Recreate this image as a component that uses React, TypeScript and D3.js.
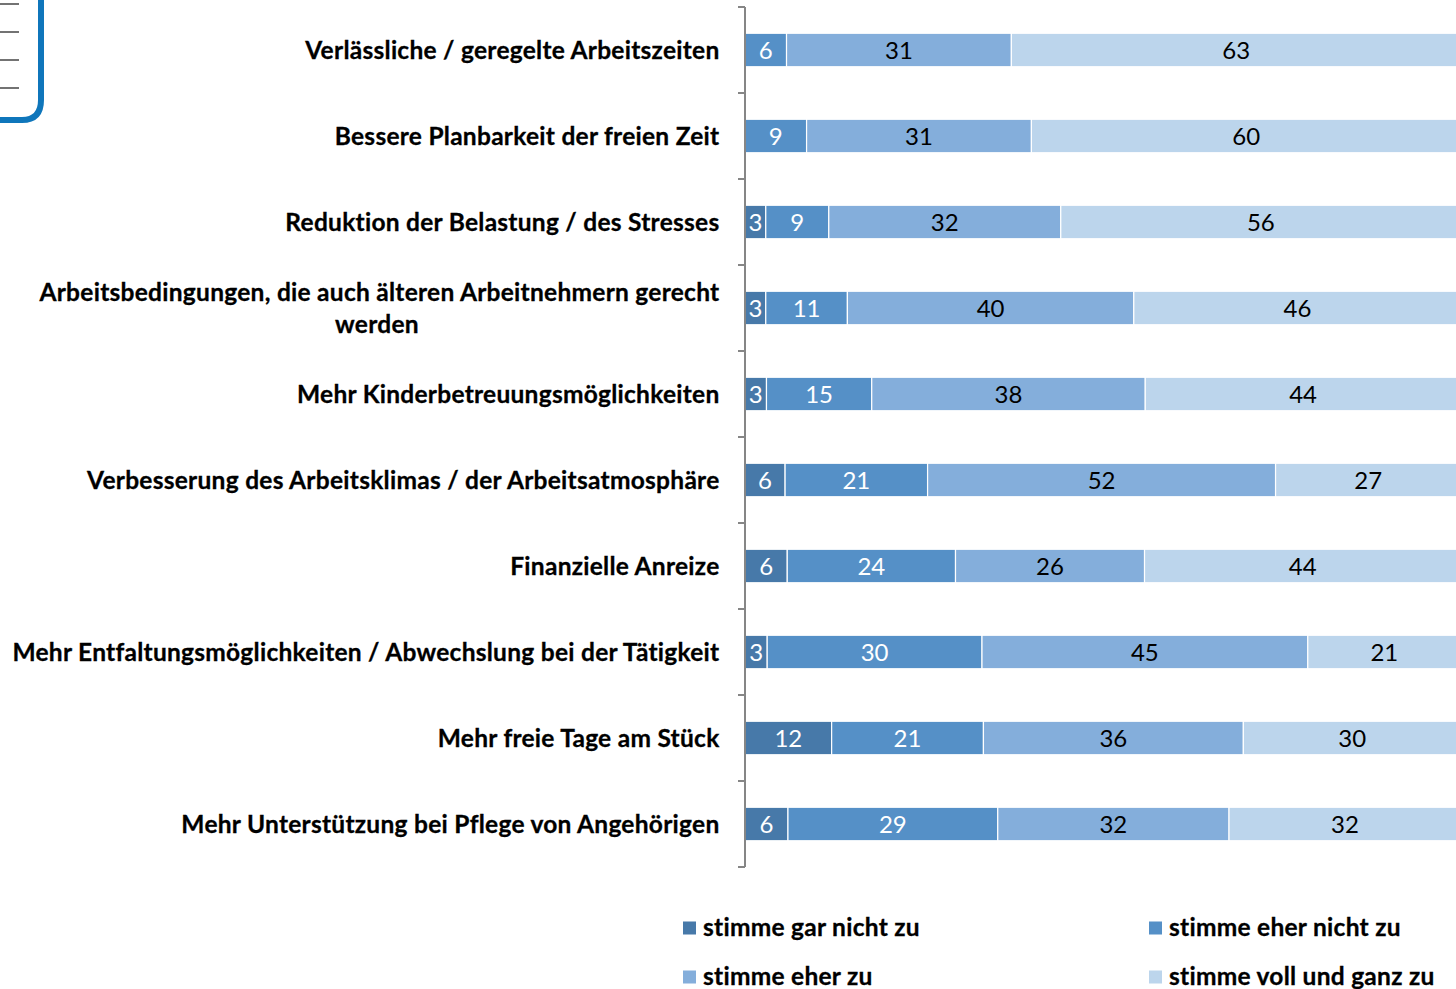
import { useEffect, useRef } from "react";
import * as d3 from "d3";

const categories = [
  ["Verlässliche / geregelte Arbeitszeiten"],
  ["Bessere Planbarkeit der freien Zeit"],
  ["Reduktion der Belastung / des Stresses"],
  ["Arbeitsbedingungen, die auch älteren Arbeitnehmern gerecht", "werden"],
  ["Mehr Kinderbetreuungsmöglichkeiten"],
  ["Verbesserung des Arbeitsklimas / der Arbeitsatmosphäre"],
  ["Finanzielle Anreize"],
  ["Mehr Entfaltungsmöglichkeiten / Abwechslung bei der Tätigkeit"],
  ["Mehr freie Tage am Stück"],
  ["Mehr Unterstützung bei Pflege von Angehörigen"],
];

const seriesNames = [
  "stimme gar nicht zu",
  "stimme eher nicht zu",
  "stimme eher zu",
  "stimme voll und ganz zu",
];
const colors = ["#4779a9", "#5590c7", "#84aedb", "#bcd5ec"];
const textColors = ["#fff", "#fff", "#000", "#000"];

// bar lengths as measured in the picture (they are not always the rounded labels)
const garNicht = [0, 0, 2.9, 2.9, 3, 5.6, 5.9, 3.1, 12.1, 6];
const eherNicht = [5.8, 8.6, 8.8, 11.4, 14.7, 19.9, 23.5, 30, 21.2, 29.3];
const eherZu = [31.4, 31.4, 32.4, 40, 38.2, 48.6, 26.4, 45.5, 36.3, 32.3];
const vollGanz = [62.8, 60, 55.9, 45.7, 44.1, 25.9, 44.2, 21.4, 30.4, 32.4];

// printed labels
const garNichtLabels = [0, 0, 3, 3, 3, 6, 6, 3, 12, 6];
const eherNichtLabels = [6, 9, 9, 11, 15, 21, 24, 30, 21, 29];
const eherZuLabels = [31, 31, 32, 40, 38, 52, 26, 45, 36, 32];
const vollGanzLabels = [63, 60, 56, 46, 44, 27, 44, 21, 30, 32];

const values = [garNicht, eherNicht, eherZu, vollGanz];
const labels = [garNichtLabels, eherNichtLabels, eherZuLabels, vollGanzLabels];

const font = "Lato, 'Noto Sans', sans-serif";

const boldText = (sel: d3.Selection<SVGTextElement, unknown, null, undefined>) =>
  sel
    .attr("font-family", font)
    .attr("font-weight", 700)
    .attr("font-size", 24.5)
    .attr("letter-spacing", 0.27)
    .attr("fill", "#000")
    .attr("stroke", "#000")
    .attr("stroke-width", 0.3)
    .style("font-variant-ligatures", "none");

const drawChart = (node: SVGSVGElement) => {
  const svg = d3.select(node);
  svg.selectAll("*").remove();

  const x = d3.scaleLinear().domain([0, 100]).range([745, 1461]);
  const y = d3
    .scaleBand<number>()
    .domain(categories.map((_, i) => i))
    .range([7, 867])
    .paddingInner(0)
    .paddingOuter(0);
  const barH = 33.5;

  // clipboard decoration cut off in the top left corner
  const deco = svg.append("g");
  deco
    .append("path")
    .attr("d", "M-5,120 H22 Q41,120 41,100 V-5")
    .attr("fill", "none")
    .attr("stroke", "#0f76bb")
    .attr("stroke-width", 6);
  deco
    .selectAll("line")
    .data([4, 32, 60, 88])
    .enter()
    .append("line")
    .attr("x1", 0)
    .attr("x2", 19)
    .attr("y1", (d) => d)
    .attr("y2", (d) => d)
    .attr("stroke", "#444")
    .attr("stroke-width", 1.5);

  // bars
  categories.forEach((_, row) => {
    let cum = 0;
    const g = svg.append("g");
    values.forEach((s, k) => {
      const v = s[row];
      const start = cum;
      cum += v;
      if (!v) return;
      const yTop = y(row)! + (y.bandwidth() - barH) / 2;
      g.append("rect")
        .attr("x", x(start))
        .attr("y", yTop)
        .attr("width", x(start + v) - x(start))
        .attr("height", barH)
        .attr("fill", colors[k])
        .attr("stroke", "#fff")
        .attr("stroke-width", 1.2);
      g.append("text")
        .attr("x", x(start + v / 2))
        .attr("y", yTop + barH / 2 + 9)
        .attr("text-anchor", "middle")
        .attr("font-family", font)
        .attr("font-size", 24)
        .attr("fill", textColors[k])
        .text(labels[k][row]);
    });
  });

  // axis
  const axis = svg.append("g").attr("stroke", "#868686").attr("stroke-width", 2);
  axis
    .append("line")
    .attr("x1", 745)
    .attr("x2", 745)
    .attr("y1", y.range()[0])
    .attr("y2", y.range()[1]);
  axis
    .selectAll("line.tick")
    .data(d3.range(categories.length + 1))
    .enter()
    .append("line")
    .attr("class", "tick")
    .attr("x1", 738)
    .attr("x2", 745)
    .attr("y1", (d) => y.range()[0] + d * y.step())
    .attr("y2", (d) => y.range()[0] + d * y.step());

  // category labels, two-line ones are centred on their longest line
  categories.forEach((lines, row) => {
    const mid = y(row)! + y.bandwidth() / 2;
    const lineH = 32;
    const top = mid - ((lines.length - 1) * lineH) / 2 + 8.5;
    const first = svg
      .append("text")
      .attr("x", 719.5)
      .attr("y", top)
      .attr("text-anchor", "end")
      .call(boldText)
      .text(lines[0]);
    const w = (first.node() as SVGTextElement).getComputedTextLength();
    lines.slice(1).forEach((line, i) => {
      svg
        .append("text")
        .attr("x", 719 - w / 2 - 2)
        .attr("y", top + (i + 1) * lineH)
        .attr("text-anchor", "middle")
        .call(boldText)
        .text(line);
    });
  });

  // legend
  const legendX = d3.scaleOrdinal<number, number>().domain([0, 1]).range([683, 1149]);
  const legendY = d3.scaleOrdinal<number, number>().domain([0, 1]).range([928, 977]);
  seriesNames.forEach((name, i) => {
    const lx = legendX(i % 2);
    const ly = legendY(Math.floor(i / 2));
    svg
      .append("rect")
      .attr("x", lx)
      .attr("y", ly - 6.5)
      .attr("width", 13)
      .attr("height", 13)
      .attr("fill", colors[i]);
    svg
      .append("text")
      .attr("x", lx + 20)
      .attr("y", ly + 8)
      .call(boldText)
      .text(name);
  });
};

const App = () => {
  const svgRef = useRef<SVGSVGElement>(null);

  useEffect(() => {
    if (svgRef.current) drawChart(svgRef.current);
  }, []);

  return (
    <svg
      ref={svgRef}
      width={1456}
      height={989}
      style={{ position: "absolute", left: 0, top: 0, display: "block", background: "#fff" }}
    />
  );
};

export default App;
